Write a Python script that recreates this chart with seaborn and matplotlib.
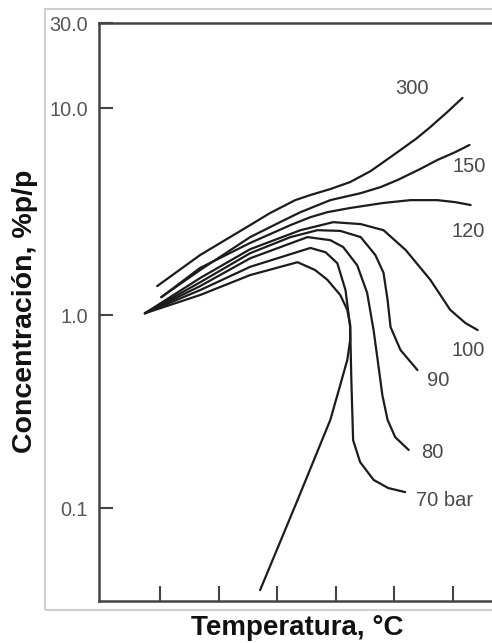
import numpy as np
import matplotlib
matplotlib.use("Agg")
import matplotlib.pyplot as plt
import seaborn as sns
import pandas as pd

# Solubility (% w/w) versus temperature for several pressures (bar)
x_300 = [0.95, 1.685, 2.54, 2.88, 3.31, 3.57, 3.91, 4.25, 4.60, 4.99, 5.37, 5.62, 5.91, 6.17]
y_300 = [1.38, 1.95, 2.72, 3.11, 3.59, 3.80, 4.06, 4.39, 4.96, 5.93, 7.08, 8.09, 9.56, 11.4]

x_150 = [1.02, 1.685, 2.54, 3.05, 3.40, 3.91, 4.43, 4.77, 5.06, 5.45, 5.74, 6.05, 6.29]
y_150 = [1.22, 1.65, 2.38, 2.81, 3.14, 3.59, 3.88, 4.15, 4.49, 5.08, 5.61, 6.13, 6.63]

x_120 = [1.02, 1.685, 2.54, 3.23, 3.57, 3.86, 4.25, 4.82, 5.28, 5.74, 6.05, 6.31]
y_120 = [1.22, 1.69, 2.23, 2.72, 2.97, 3.14, 3.29, 3.48, 3.59, 3.59, 3.51, 3.40]

x_100 = [0.74, 1.685, 2.54, 3.40, 3.96, 4.43, 4.82, 5.20, 5.62, 5.96, 6.22, 6.43]
y_100 = [1.02, 1.51, 2.08, 2.57, 2.81, 2.75, 2.57, 2.06, 1.48, 1.06, 0.909, 0.836]

x_90 = [0.74, 1.685, 2.54, 3.23, 3.69, 4.08, 4.43, 4.68, 4.82, 4.89, 4.94, 5.11, 5.40]
y_90 = [1.02, 1.44, 1.99, 2.38, 2.57, 2.55, 2.38, 1.95, 1.60, 1.18, 0.867, 0.659, 0.519]

x_80 = [0.74, 1.685, 2.54, 3.52, 3.91, 4.13, 4.37, 4.54, 4.65, 4.72, 4.80, 4.89, 5.02, 5.25]
y_80 = [1.02, 1.38, 1.88, 2.38, 2.30, 2.13, 1.74, 1.28, 0.836, 0.585, 0.385, 0.286, 0.233, 0.200]

x_70 = [0.74, 1.685, 2.54, 3.57, 3.83, 4.03, 4.17, 4.25, 4.27, 4.29, 4.30, 4.42, 4.65, 4.90, 5.19]
y_70 = [1.02, 1.32, 1.71, 2.11, 2.01, 1.78, 1.32, 0.867, 0.46, 0.286, 0.225, 0.173, 0.140, 0.127, 0.121]

x_low = [0.74, 1.685, 2.54, 3.35, 3.65, 3.86, 4.08, 4.20, 4.25, 4.25, 4.20, 4.08, 3.91, 3.35, 2.71]
y_low = [1.02, 1.25, 1.56, 1.80, 1.65, 1.48, 1.25, 1.06, 0.888, 0.742, 0.585, 0.434, 0.286, 0.110, 0.0376]

curves = [
    (x_300, y_300), (x_150, y_150), (x_120, y_120), (x_100, y_100),
    (x_90, y_90), (x_80, y_80), (x_70, y_70), (x_low, y_low),
]

curve_labels = ["300", "150", "120", "100", "90", "80", "70 bar"]
label_x = [5.30, 6.29, 6.26, 6.26, 5.76, 5.66, 5.86]
label_y = [12.9, 5.19, 2.52, 0.659, 0.46, 0.193, 0.109]

y_ticks = [0.1, 1.0, 10.0, 30.0]
y_tick_labels = ["0.1", "1.0", "10.0", "30.0"]
x_ticks = [1, 2, 3, 4, 5, 6]

sns.set_theme(style="white")
plt.rcParams["font.family"] = ["Liberation Sans", "DejaVu Sans"]

# hand-drawn logarithmic axis: decades are not all the same length
_logk = [-3.0, -1.0, 0.0, 1.0, np.log10(30.0), 3.0]
_posk = [-386.0, 0.0, 193.0, 400.0, 485.0, 756.0]


def fwd(v):
    v = np.clip(np.asarray(v, dtype=float), 1e-6, None)
    return np.interp(np.log10(v), _logk, _posk)


def inv(u):
    return 10.0 ** np.interp(np.asarray(u, dtype=float), _posk, _logk)


fig = plt.figure(figsize=(4.92, 6.43), dpi=100)
ax = fig.add_axes([0.2012, 0.0653, 0.80, 0.8989])
ax.set_yscale("function", functions=(fwd, inv))

for xs, ys in curves:
    df = pd.DataFrame({"t": xs, "c": ys})
    sns.lineplot(data=df, x="t", y="c", sort=False, estimator=None,
                 color="#1c1c1c", linewidth=1.6, ax=ax)

for txt, lx, ly in zip(curve_labels, label_x, label_y):
    ax.text(lx, ly, txt, ha="center", va="center", fontsize=14.5,
            color="#4a4a4a")

ax.set_xlim(-0.045, 6.685)
ax.set_ylim(0.033, 30.0)
ax.set_yticks(y_ticks)
ax.set_yticklabels(y_tick_labels)
ax.yaxis.set_minor_locator(matplotlib.ticker.NullLocator())
ax.set_xticks(x_ticks)
ax.set_xticklabels([])

ax.tick_params(axis="y", direction="in", length=10, width=1.5,
               color="#444444", labelsize=14.3, labelcolor="#555555", pad=8,
               left=True)
ax.tick_params(axis="x", direction="in", length=11, width=1.5,
               color="#444444", bottom=True)

for side in ["left", "top", "bottom"]:
    ax.spines[side].set_visible(True)
    ax.spines[side].set_color("#444444")
    ax.spines[side].set_linewidth(1.8)
ax.spines["right"].set_visible(False)

ax.set_xlabel("")
ax.set_ylabel("")
fig.text(297 / 492, 1 - 628 / 643, "Temperatura, °C", fontsize=20,
         fontweight="bold", color="#111111", ha="center", va="center")
fig.text(25 / 492, 1 - 311 / 643, "Concentración, %p/p", fontsize=20.5,
         fontweight="bold", color="#111111", ha="center", va="center",
         rotation=90)

# light frame around the panel
frame = matplotlib.patches.Rectangle(
    (45 / 492, 1 - 610 / 643), 1.2, (610 - 9) / 643,
    transform=fig.transFigure, fill=False, edgecolor="#cfcfcf",
    linewidth=1.5, zorder=0)
fig.patches.append(frame)

fig.savefig("out.png", dpi=100)
